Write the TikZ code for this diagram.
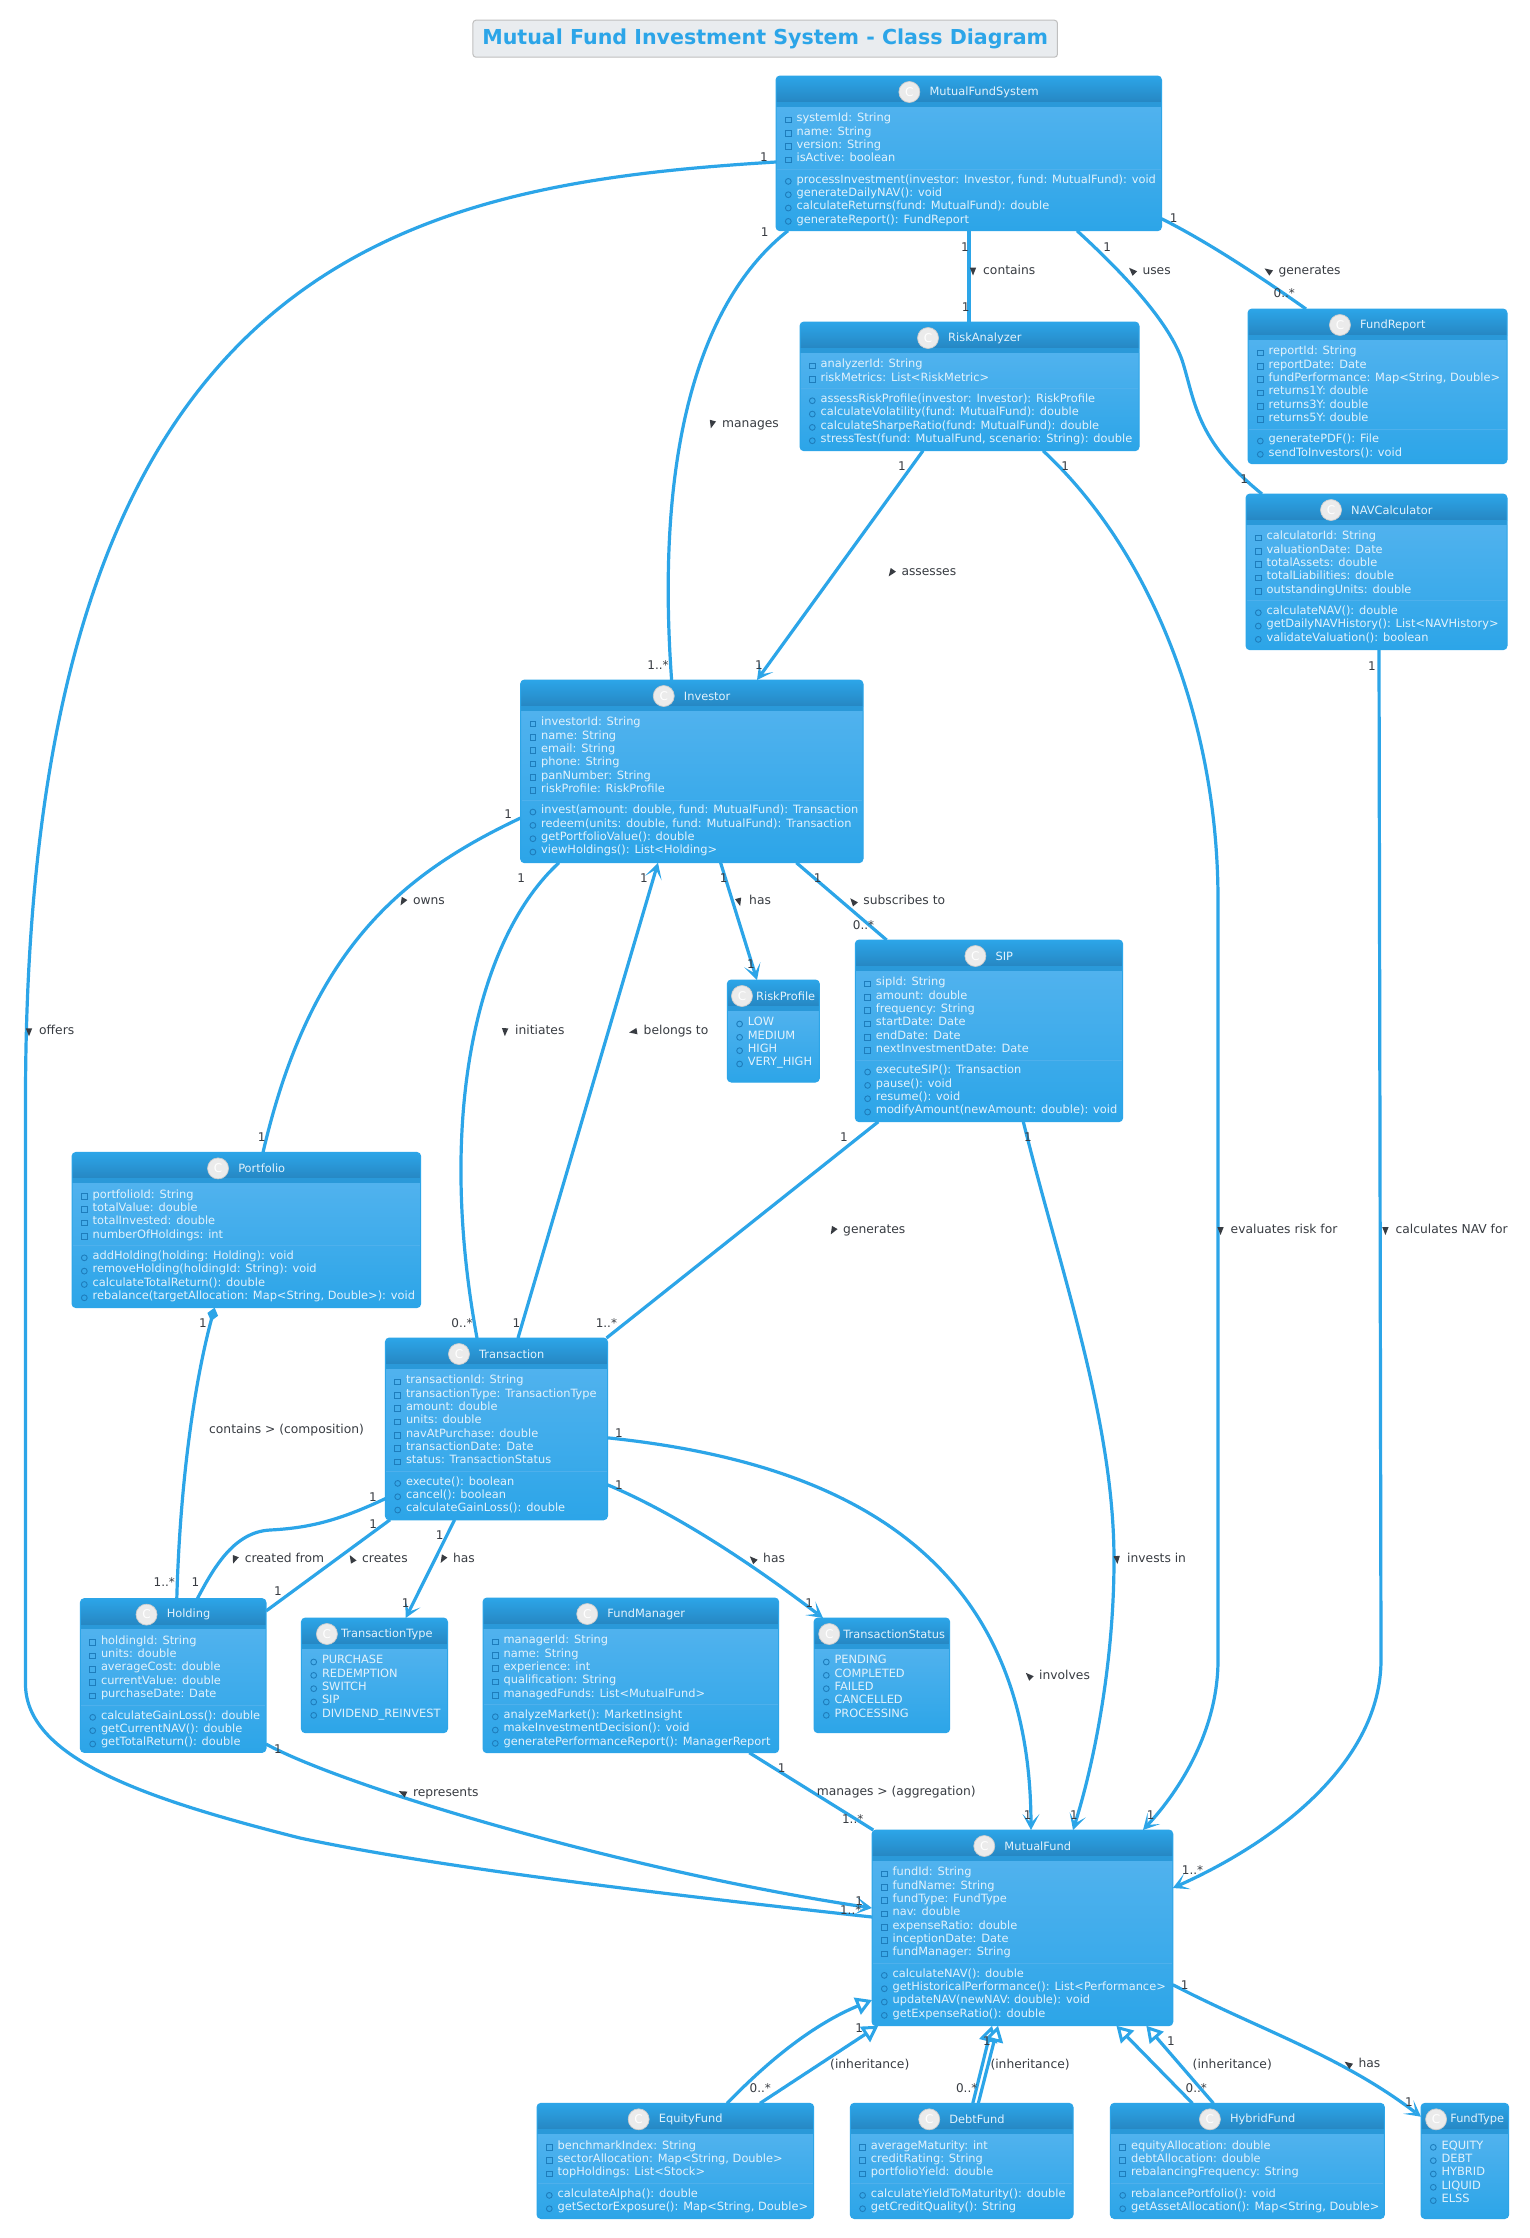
\documentclass[tikz,border=0pt]{standalone}
\usepackage{fontspec}
\setmainfont{DejaVu Sans}
\usetikzlibrary{arrows.meta}
\definecolor{FundBlue}{RGB}{44,165,232}
\definecolor{HeadLow}{RGB}{38,135,195}
\definecolor{HeadBand}{RGB}{42,153,217}
\definecolor{BodyTop}{RGB}{80,178,238}
\definecolor{SepBlue}{RGB}{78,176,236}
\definecolor{MarkBlue}{RGB}{30,125,188}
\definecolor{RowWhite}{RGB}{226,242,252}
\definecolor{LabelGrey}{RGB}{56,60,66}
\definecolor{TitleFill}{RGB}{233,236,239}
\tikzset{
classframe/.style={draw=FundBlue,line width=1pt,rounded corners=4pt,inner sep=0pt,outer sep=0pt},
classtitle/.style={text=RowWhite,inner sep=0pt,font=\fontsize{11.4}{13}\selectfont},
classmark/.style={circle,fill=white!92!black,draw=black!20,line width=.7pt,minimum size=21pt,inner sep=0pt,text=white,font=\fontsize{12}{13}\selectfont},
rowtext/.style={anchor=west,inner sep=0pt,text=RowWhite,text height=8.5pt,text depth=2.5pt,font=\fontsize{11.4}{13}\selectfont},
privmark/.style={draw=MarkBlue,line width=.9pt},
multtext/.style={inner sep=0pt,text=LabelGrey,font=\fontsize{12}{13}\selectfont},
edgetext/.style={anchor=west,inner sep=0pt,text=LabelGrey,text height=8.5pt,text depth=2.5pt,font=\fontsize{12.3}{13}\selectfont},
assoc/.style={draw=FundBlue,line width=3.2pt},
arrowed/.style={assoc,-{Stealth[length=16pt,width=17pt,inset=9pt,line width=0pt]}},
inherit/.style={assoc,-{Triangle[open,fill=white,length=16pt,width=18pt,line width=3pt]}},
composed/.style={assoc,{Diamond[length=14pt,width=11pt,line width=0pt]}-}
}
\newcommand{\classhead}[7]{
\begin{scope}
\clip[rounded corners=4pt] (#2,#4) rectangle (#3,#5);
\shade[top color=FundBlue,bottom color=HeadLow] (#2,#4) rectangle (#3,#4+26);
\fill[HeadBand] (#2,#4+26) rectangle (#3,#4+31);
\shade[top color=BodyTop,bottom color=FundBlue] (#2,#4+31) rectangle (#3,#5);
\end{scope}
\node (#1) [classframe,minimum width=#3pt-#2pt,minimum height=#5pt-#4pt] at ({(#2+#3)/2},{(#4+#5)/2}) {};
\node (#1-name) [classtitle] at ({(#2+#3)/2+(#7+10.7)/2},#4+16) {#6};
\node (#1-mark) [classmark] at ([xshift=-#7pt]#1-name.west) {C};
}
\newcommand{\classbox}[8]{
\classhead{#1}{#2}{#3}{#4}{#5}{#6}{20}
\foreach \t [count=\i] in {#7}{
\pgfmathsetmacro\ry{#4+42.7+(\i-1)*13.33}
\draw[privmark] (#2+9.5,\ry-1.5) rectangle (#2+15,\ry+4);
\node (#1-a\i) [rowtext] at (#2+20.4,\ry) {\t};
\xdef\nrows{\i}}
\pgfmathsetmacro\sy{#4+42.7+(\nrows-1)*13.33+10.7}
\draw[SepBlue,line width=.8pt] (#2+1,\sy) -- (#3-1,\sy);
\foreach \t [count=\i] in {#8}{
\pgfmathsetmacro\ry{\sy+10.7+(\i-1)*13.33}
\draw[privmark] (#2+12.3,\ry+1.3) circle (2.9);
\node (#1-m\i) [rowtext] at (#2+20.4,\ry) {\t};}
}
\newcommand{\enumbox}[7]{
\classhead{#1}{#2}{#3}{#4}{#5}{#6}{14}
\foreach \t [count=\i] in {#7}{
\pgfmathsetmacro\ry{#4+42.7+(\i-1)*13.33}
\draw[privmark] (#2+12.3,\ry+1.3) circle (2.9);
\node (#1-e\i) [rowtext] at (#2+20.4,\ry) {\t};}
}
\begin{document}
\begin{tikzpicture}[x=1pt,y=-1pt]
\path[fill=white,use as bounding box] (0,0) rectangle (1530,2238);
\node (title) [draw=black!25,line width=1pt,fill=TitleFill,rounded corners=3pt,minimum width=584.5pt,minimum height=37pt,inner sep=0pt,text=FundBlue,font=\fontsize{20.6}{24}\selectfont\bfseries] at (765.2,38.7) {Mutual Fund Investment System - Class Diagram};
% classes
\classbox{MutualFundSystem}{776}{1161.5}{76}{230.7}{MutualFundSystem}{systemId: String,name: String,version: String,isActive: boolean}{{processInvestment(investor: Investor, fund: MutualFund): void},generateDailyNAV(): void,calculateReturns(fund: MutualFund): double,generateReport(): FundReport}
\classbox{RiskAnalyzer}{800}{1139}{322}{450.7}{RiskAnalyzer}{analyzerId: String,riskMetrics: List<RiskMetric>}{assessRiskProfile(investor: Investor): RiskProfile,calculateVolatility(fund: MutualFund): double,calculateSharpeRatio(fund: MutualFund): double,{stressTest(fund: MutualFund, scenario: String): double}}
\classbox{FundReport}{1248}{1507}{309}{463.7}{FundReport}{reportId: String,reportDate: Date,{fundPerformance: Map<String, Double>},returns1Y: double,returns3Y: double,returns5Y: double}{generatePDF(): File,sendToInvestors(): void}
\classbox{NAVCalculator}{1246}{1507}{494}{649.7}{NAVCalculator}{calculatorId: String,valuationDate: Date,totalAssets: double,totalLiabilities: double,outstandingUnits: double}{calculateNAV(): double,getDailyNAVHistory(): List<NAVHistory>,validateValuation(): boolean}
\classbox{Investor}{520.6}{863}{680}{862.7}{Investor}{investorId: String,name: String,email: String,phone: String,panNumber: String,riskProfile: RiskProfile}{{invest(amount: double, fund: MutualFund): Transaction},{redeem(units: double, fund: MutualFund): Transaction},getPortfolioValue(): double,viewHoldings(): List<Holding>}
\classbox{SIP}{855.3}{1122.7}{940}{1121.7}{SIP}{sipId: String,amount: double,frequency: String,startDate: Date,endDate: Date,nextInvestmentDate: Date}{executeSIP(): Transaction,pause(): void,resume(): void,modifyAmount(newAmount: double): void}
\classbox{Portfolio}{72}{420.7}{1152.4}{1307.6}{Portfolio}{portfolioId: String,totalValue: double,totalInvested: double,numberOfHoldings: int}{addHolding(holding: Holding): void,removeHolding(holdingId: String): void,calculateTotalReturn(): double,{rebalance(targetAllocation: Map<String, Double>): void}}
\classbox{Transaction}{385.4}{607.5}{1338}{1519.8}{Transaction}{transactionId: String,transactionType: TransactionType,amount: double,units: double,navAtPurchase: double,transactionDate: Date,status: TransactionStatus}{execute(): boolean,cancel(): boolean,calculateGainLoss(): double}
\classbox{Holding}{80.4}{266}{1598.6}{1752.4}{Holding}{holdingId: String,units: double,averageCost: double,currentValue: double,purchaseDate: Date}{calculateGainLoss(): double,getCurrentNAV(): double,getTotalReturn(): double}
\classbox{FundManager}{483}{778.7}{1598}{1752.7}{FundManager}{managerId: String,name: String,experience: int,qualification: String,managedFunds: List<MutualFund>}{analyzeMarket(): MarketInsight,makeInvestmentDecision(): void,generatePerformanceReport(): ManagerReport}
\classbox{MutualFund}{872}{1172.8}{1830}{2025.7}{MutualFund}{fundId: String,fundName: String,fundType: FundType,nav: double,expenseRatio: double,inceptionDate: Date,fundManager: String}{calculateNAV(): double,getHistoricalPerformance(): List<Performance>,updateNAV(newNAV: double): void,getExpenseRatio(): double}
\classbox{EquityFund}{537}{813.7}{2103.3}{2218.5}{EquityFund}{benchmarkIndex: String,{sectorAllocation: Map<String, Double>},topHoldings: List<Stock>}{calculateAlpha(): double,{getSectorExposure(): Map<String, Double>}}
\classbox{DebtFund}{850.3}{1073}{2103.3}{2218.5}{DebtFund}{averageMaturity: int,creditRating: String,portfolioYield: double}{calculateYieldToMaturity(): double,getCreditQuality(): String}
\classbox{HybridFund}{1110.4}{1384.4}{2103.3}{2218.5}{HybridFund}{equityAllocation: double,debtAllocation: double,rebalancingFrequency: String}{rebalancePortfolio(): void,{getAssetAllocation(): Map<String, Double>}}
\enumbox{RiskProfile}{727.3}{819.4}{980}{1082}{RiskProfile}{LOW,MEDIUM,HIGH,VERY\_HIGH}
\enumbox{TransactionType}{301.4}{447.5}{1618}{1732.7}{TransactionType}{PURCHASE,REDEMPTION,SWITCH,SIP,DIVIDEND\_REINVEST}
\enumbox{TransactionStatus}{814}{949.7}{1618}{1732.7}{TransactionStatus}{PENDING,COMPLETED,FAILED,CANCELLED,PROCESSING}
\enumbox{FundType}{1421}{1508.7}{2103.3}{2218.5}{FundType}{EQUITY,DEBT,HYBRID,LIQUID,ELSS}
% connectors
\draw[assoc] ([yshift=-86pt]MutualFundSystem.north west) .. controls (400,185) and (25.5,260) .. (25.5,1100) -- (25.5,1686) .. controls (28,1760) and (150,1800) .. (300,1838) .. controls (450,1870) and (700,1898) .. ([yshift=-87pt]MutualFund.north west);
\draw[assoc] ([xshift=12pt]MutualFundSystem.south west) .. controls (700,300) and (655,450) .. ([xshift=151pt]Investor.north west);
\draw[assoc] ([xshift=193pt]MutualFundSystem.south west) -- ([xshift=169pt]RiskAnalyzer.north west);
\draw[assoc] ([xshift=301pt]MutualFundSystem.south west) .. controls (1120,270) and (1168,320) .. (1182,360) .. controls (1195,400) and (1195,440) .. ([xshift=16pt]NAVCalculator.north west);
\draw[assoc] ([yshift=12pt]MutualFundSystem.south east) .. controls (1210,243) and (1265,280) .. ([xshift=58pt]FundReport.north west);
\draw[arrowed] ([xshift=123pt]RiskAnalyzer.south west) -- ([xshift=236.4pt]Investor.north west);
\draw[arrowed] ([xshift=243pt]RiskAnalyzer.south west) .. controls (1150,550) and (1218,720) .. (1218,900) -- (1218,1660) .. controls (1218,1730) and (1180,1790) .. ([xshift=271pt]MutualFund.north west);
\draw[arrowed] ([xshift=168pt]SIP.south west) .. controls (1060,1270) and (1114,1420) .. (1114,1560) .. controls (1114,1660) and (1095,1760) .. ([xshift=201pt]MutualFund.north west);
\draw[arrowed] ([yshift=82pt]Transaction.south east) .. controls (820,1460) and (1030,1540) .. ([xshift=159pt]MutualFund.north west);
\draw[arrowed] ([yshift=35pt]Transaction.south east) .. controls (680,1515) and (760,1570) .. ([xshift=9pt]TransactionStatus.north west);
\draw[arrowed] ([xshift=133pt]NAVCalculator.south west) -- (1381,1660) .. controls (1381,1760) and (1280,1840) .. ([yshift=-58pt]MutualFund.north east);
\draw[arrowed] ([yshift=41pt]MutualFund.south east) .. controls (1260,2030) and (1340,2055) .. ([yshift=-13.4pt]FundType.north west);
\draw[inherit] ([xshift=190pt]EquityFund.north west) .. controls (750,2080) and (800,2030) .. ([yshift=25.7pt]MutualFund.south west);
\draw[inherit] ([xshift=223pt]EquityFund.north west) -- ([xshift=6.3pt]MutualFund.south west);
\draw[inherit] ([xshift=122.5pt]DebtFund.north west) -- ([xshift=120pt]MutualFund.south west);
\draw[inherit] ([xshift=128pt]DebtFund.north west) -- ([xshift=126pt]MutualFund.south west);
\draw[inherit] ([xshift=82pt]HybridFund.north west) -- ([xshift=244.4pt]MutualFund.south west);
\draw[inherit] ([xshift=103pt]HybridFund.north west) -- ([xshift=274.3pt]MutualFund.south west);
\draw[composed] ([xshift=142.6pt]Portfolio.south west) .. controls (195,1380) and (180,1480) .. ([xshift=96.4pt]Holding.north west);
\draw[assoc] ([yshift=-138pt]Investor.north west) .. controls (400,875) and (310,950) .. ([xshift=191pt]Portfolio.north west);
\draw[assoc] ([xshift=38.4pt]Investor.south west) .. controls (480,935) and (435,1110) .. ([xshift=91.6pt]Transaction.north west);
\draw[arrowed] ([xshift=132.6pt]Transaction.north west) -- ([xshift=137.4pt]Investor.south west);
\draw[arrowed] ([xshift=200pt]Investor.south west) -- ([xshift=29.7pt]RiskProfile.north west);
\draw[assoc] ([xshift=275.8pt]Investor.south west) -- ([xshift=31.3pt]SIP.north west);
\draw[assoc] ([xshift=23pt]SIP.south west) -- ([xshift=-1pt]Transaction.north east);
\draw[assoc] ([yshift=-160.6pt]Transaction.north west) .. controls (340,1520) and (310,1528) .. (270,1530) .. controls (235,1532) and (215,1565) .. ([xshift=117pt]Holding.north west);
\draw[assoc] ([xshift=4.6pt]Transaction.south west) -- ([yshift=-12.4pt]Holding.north east);
\draw[arrowed] ([xshift=69.2pt]Transaction.south west) -- ([xshift=104.3pt]TransactionType.north west);
\draw[assoc] ([xshift=266.3pt]FundManager.south west) -- ([xshift=1.3pt]MutualFund.north west);
\draw[arrowed] ([yshift=8.4pt]Holding.south east) .. controls (340,1785) and (620,1870) .. ([yshift=-78pt]MutualFund.north west);
% multiplicities
\foreach \x/\y/\t [count=\i] in {764/156.7/1,764.6/231.7/1,965/246.7/1,965.7/306.7/1,1107.3/246.7/1,1173.6/217.7/1,1284.3/293.3/0..*,1244.3/479.3/1,1372/666/1,902/466/1,1065.3/466/1,658/665/1..*,759/665/1,508.3/814.3/1,521.3/877.7/1,643.9/877.7/1,723.7/877.7/1,817.8/877.7/1,863.6/925/0..*,751/964.3/1,844/1137.3/1,1028/1137.3/1,261.8/1137/1,202.9/1323/1,164.3/1582/1..*,195.4/1582/1,462/1323/0..*,516.4/1323/1,606.4/1323/1..*,372.9/1497.3/1,373.2/1524/1,439.6/1535.3/1,278/1591.6/1,405.7/1602.7/1,278/1748.7/1,619/1433/1,619/1485/1,809.3/1602.7/1,781.7/1767.7/1,852.7/1818.7/1..*,1027.7/1815/1,1074/1815/1,1150.7/1815/1,859.3/1900.7/1,850.7/1910/1..*,1192.5/1870/1..*,1184.8/1985/1,1409/2102/1,859.3/2028.3/1,760.3/2088/0..*,987/2040.7/1,966.7/2088/0..*,1171/2040.7/1,1196.3/2087.7/0..*}{
\node (mult\i) [multtext] at (\x,\y) {\t};}
% connector labels
\foreach \x/\y/\a/\t [count=\i] in {983/271/-90/contains,1142.3/271/135/uses,1278.3/271/145/generates,722/424/-105/manages,901.3/572.7/-125/assesses,749/901.7/-75/has,863.2/901.7/130/subscribes to,515/1031.7/-92/initiates,643.5/1031.7/190/belongs to,412.8/901.5/-120/owns,843/1230.5/-120/generates,1127/1559.5/-85/invests in,1230.5/1230.5/-90/evaluates risk for,1395.4/1230.5/-90/calculates NAV for,39/1031.8/-90/offers,244.6/1559.4/-110/created from,362/1559/120/creates,452.9/1559/-120/has,763/1559.5/135/has,1039/1676/135/involves,412.8/1793/155/represents,1358.3/2064.3/145/has}{
\node (label\i) [edgetext] at (\x,\y) {\t};
\fill[LabelGrey,shift={(\x-10,\y)},rotate=\a] (4.5pt,0pt) -- (-3.5pt,3.2pt) -- (-3.5pt,-3.2pt) -- cycle;}
\node (label23) [edgetext] at (209,1430) {contains > (composition)};
\node (label24) [edgetext] at (816.7,1792.3) {manages > (aggregation)};
\node (label25) [edgetext] at (830,2065) {(inheritance)};
\node (label26) [edgetext] at (990.3,2065) {(inheritance)};
\node (label27) [edgetext] at (1192.5,2065) {(inheritance)};
\end{tikzpicture}
\end{document}
